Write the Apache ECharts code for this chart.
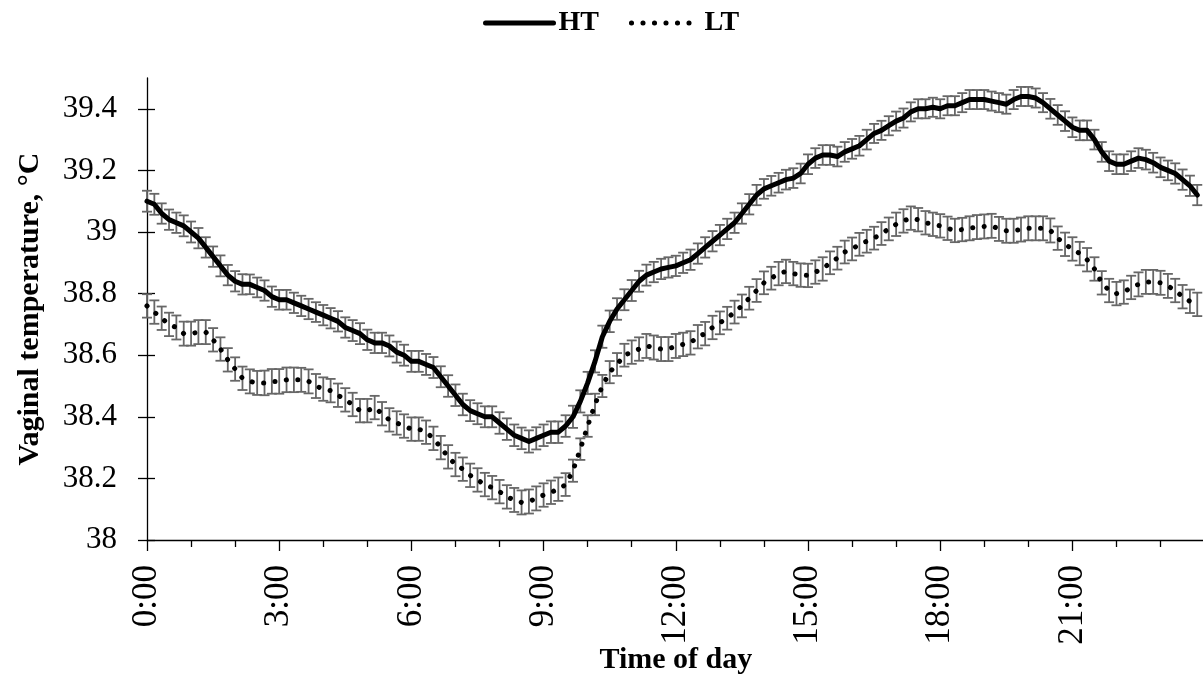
<!DOCTYPE html>
<html><head><meta charset="utf-8">
<script src="https://cdn.jsdelivr.net/npm/echarts@6/dist/echarts.min.js"></script>
<style>html,body{margin:0;padding:0;background:#fff}#c{width:1203px;height:677px}</style>
</head><body><div id="c"></div>
<script>
// 10-minute means, 0:00 .. 23:50 (one row = 2 hours)
const htMean = [
  39.10, 39.09, 39.06, 39.04, 39.03, 39.02, 39.00, 38.98, 38.95, 38.92, 38.89, 38.86,
  38.84, 38.83, 38.83, 38.82, 38.81, 38.79, 38.78, 38.78, 38.77, 38.76, 38.75, 38.74,
  38.73, 38.72, 38.71, 38.69, 38.68, 38.67, 38.65, 38.64, 38.64, 38.63, 38.61, 38.60,
  38.58, 38.58, 38.57, 38.56, 38.53, 38.50, 38.47, 38.44, 38.42, 38.41, 38.40, 38.40,
  38.38, 38.36, 38.34, 38.33, 38.32, 38.33, 38.34, 38.35, 38.35, 38.37, 38.40, 38.45,
  38.51, 38.58, 38.66, 38.71, 38.75, 38.78, 38.81, 38.84, 38.86, 38.87, 38.88, 38.885,
  38.89, 38.90, 38.91, 38.93, 38.95, 38.97, 38.99, 39.01, 39.03, 39.06, 39.09, 39.12,
  39.14, 39.15, 39.16, 39.17, 39.175, 39.19, 39.22, 39.24, 39.25, 39.25, 39.245, 39.26,
  39.27, 39.28, 39.30, 39.32, 39.33, 39.345, 39.36, 39.37, 39.39, 39.40, 39.40, 39.405,
  39.40, 39.41, 39.41, 39.42, 39.43, 39.43, 39.43, 39.425, 39.42, 39.415, 39.43, 39.44,
  39.44, 39.435, 39.42, 39.40, 39.38, 39.36, 39.34, 39.33, 39.33, 39.30, 39.26, 39.23,
  39.22, 39.22, 39.23, 39.24, 39.235, 39.225, 39.21, 39.20, 39.19, 39.17, 39.15, 39.12
];
const htSE = [
  0.034, 0.034, 0.033, 0.033, 0.033, 0.034, 0.034, 0.033, 0.033, 0.033, 0.034, 0.033,
  0.033, 0.033, 0.032, 0.032, 0.033, 0.033, 0.032, 0.032, 0.033, 0.033, 0.033, 0.032,
  0.033, 0.033, 0.033, 0.033, 0.034, 0.034, 0.033, 0.033, 0.033, 0.034, 0.034, 0.034,
  0.034, 0.034, 0.034, 0.034, 0.034, 0.035, 0.035, 0.035, 0.034, 0.034, 0.034, 0.034,
  0.035, 0.035, 0.035, 0.035, 0.036, 0.036, 0.035, 0.035, 0.035, 0.035, 0.036, 0.036,
  0.036, 0.036, 0.036, 0.035, 0.035, 0.034, 0.034, 0.034, 0.034, 0.033, 0.033, 0.033,
  0.033, 0.033, 0.033, 0.033, 0.033, 0.033, 0.033, 0.033, 0.033, 0.033, 0.033, 0.033,
  0.032, 0.032, 0.032, 0.032, 0.032, 0.032, 0.032, 0.032, 0.032, 0.032, 0.032, 0.032,
  0.032, 0.032, 0.032, 0.031, 0.031, 0.031, 0.031, 0.031, 0.031, 0.031, 0.031, 0.031,
  0.031, 0.031, 0.031, 0.031, 0.031, 0.031, 0.031, 0.031, 0.031, 0.031, 0.031, 0.031,
  0.031, 0.031, 0.031, 0.032, 0.032, 0.032, 0.032, 0.032, 0.032, 0.032, 0.032, 0.032,
  0.032, 0.032, 0.032, 0.032, 0.032, 0.032, 0.032, 0.032, 0.033, 0.033, 0.033, 0.033
];
const ltMean = [
  38.76, 38.74, 38.72, 38.70, 38.69, 38.67, 38.67, 38.675, 38.675, 38.65, 38.62, 38.585,
  38.555, 38.525, 38.515, 38.51, 38.51, 38.515, 38.515, 38.52, 38.52, 38.52, 38.515, 38.50,
  38.49, 38.485, 38.47, 38.455, 38.44, 38.42, 38.42, 38.43, 38.41, 38.39, 38.38, 38.37,
  38.36, 38.36, 38.35, 38.33, 38.30, 38.27, 38.245, 38.23, 38.21, 38.195, 38.18, 38.17,
  38.157, 38.14, 38.13, 38.122, 38.125, 38.135, 38.146, 38.155, 38.165, 38.18, 38.225, 38.295,
  38.37, 38.44, 38.50, 38.545, 38.57, 38.60, 38.61, 38.62, 38.63, 38.625, 38.62, 38.62,
  38.63, 38.635, 38.64, 38.66, 38.67, 38.69, 38.705, 38.72, 38.74, 38.76, 38.785, 38.81,
  38.835, 38.85, 38.865, 38.872, 38.865, 38.86, 38.859, 38.87, 38.88, 38.90, 38.915, 38.935,
  38.945, 38.96, 38.97, 38.98, 38.995, 39.01, 39.025, 39.036, 39.045, 39.04, 39.03, 39.025,
  39.02, 39.012, 39.005, 39.008, 39.012, 39.016, 39.018, 39.02, 39.01, 39.004, 39.004, 39.008,
  39.012, 39.012, 39.012, 39.005, 38.98, 38.96, 38.945, 38.93, 38.91, 38.88, 38.835, 38.81,
  38.80, 38.805, 38.82, 38.83, 38.838, 38.838, 38.835, 38.825, 38.81, 38.79, 38.775, 38.765
];
const ltSE = [
  0.038, 0.038, 0.038, 0.038, 0.039, 0.039, 0.039, 0.039, 0.039, 0.038, 0.038, 0.038,
  0.038, 0.038, 0.039, 0.039, 0.040, 0.040, 0.040, 0.040, 0.040, 0.039, 0.039, 0.039,
  0.038, 0.038, 0.038, 0.038, 0.038, 0.038, 0.038, 0.038, 0.038, 0.038, 0.038, 0.038,
  0.038, 0.038, 0.038, 0.038, 0.038, 0.038, 0.038, 0.038, 0.038, 0.038, 0.038, 0.038,
  0.038, 0.038, 0.039, 0.039, 0.039, 0.039, 0.038, 0.038, 0.038, 0.037, 0.036, 0.035,
  0.035, 0.035, 0.036, 0.036, 0.037, 0.037, 0.038, 0.038, 0.039, 0.039, 0.039, 0.039,
  0.039, 0.038, 0.038, 0.038, 0.038, 0.038, 0.037, 0.037, 0.037, 0.037, 0.037, 0.037,
  0.037, 0.037, 0.038, 0.038, 0.038, 0.038, 0.038, 0.038, 0.038, 0.037, 0.037, 0.037,
  0.037, 0.037, 0.037, 0.037, 0.037, 0.037, 0.038, 0.038, 0.038, 0.038, 0.038, 0.038,
  0.038, 0.038, 0.038, 0.038, 0.039, 0.039, 0.039, 0.039, 0.039, 0.039, 0.039, 0.039,
  0.039, 0.039, 0.039, 0.039, 0.038, 0.038, 0.038, 0.038, 0.038, 0.038, 0.038, 0.038,
  0.038, 0.038, 0.038, 0.039, 0.039, 0.039, 0.039, 0.039, 0.038, 0.038, 0.038, 0.038
];
const seriesNames = ['HT', 'LT'];
const xTickLabels = ['0:00', '3:00', '6:00', '9:00', '12:00', '15:00', '18:00', '21:00'];
const yTickValues = [38, 38.2, 38.4, 38.6, 38.8, 39, 39.2, 39.4];
const minutesPerPoint = 10;

const FONT = '"Liberation Serif","Times New Roman",serif';

function toPoints(mean) { return mean.map((v, i) => [i * minutesPerPoint, v]); }
function toErr(mean, se) { return mean.map((v, i) => [i * minutesPerPoint, v - se[i], v + se[i]]); }

function errRender(params, api) {
  const x = api.value(0), lo = api.value(1), hi = api.value(2);
  const p1 = api.coord([x, hi]), p2 = api.coord([x, lo]);
  const hw = 5;
  const st = () => ({ stroke: '#676767', lineWidth: 1.8 });
  return {
    type: 'group', children: [
      { type: 'line', shape: { x1: p1[0], y1: p1[1], x2: p2[0], y2: p2[1] }, style: st() },
      { type: 'line', shape: { x1: p1[0] - hw, y1: p1[1], x2: p1[0] + hw, y2: p1[1] }, style: st() },
      { type: 'line', shape: { x1: p2[0] - hw, y1: p2[1], x2: p2[0] + hw, y2: p2[1] }, style: st() }
    ]
  };
}

const chart = echarts.init(document.getElementById('c'), null, { renderer: 'canvas' });
chart.setOption({
  animation: false,
  backgroundColor: '#fff',
  legend: {
    data: seriesNames,
    top: 4, left: 478,
    itemWidth: 68, itemHeight: 14, itemGap: 30,
    itemStyle: { color: 'rgba(0,0,0,0)', borderColor: 'rgba(0,0,0,0)', borderWidth: 0, opacity: 0 },
    lineStyle: { width: 5 },
    textStyle: { fontFamily: FONT, fontWeight: 'bold', fontSize: 28, color: '#000' }
  },
  grid: { left: 147, top: 78, width: 1057.6, height: 462, containLabel: false, outerBoundsMode: 'none' },
  xAxis: {
    type: 'value', min: 0, max: 1440, interval: 180,
    name: 'Time of day', nameLocation: 'middle', nameGap: 105, nameMoveOverlap: false,
    nameTextStyle: { fontFamily: FONT, fontWeight: 'bold', fontSize: 30, color: '#000' },
    axisLine: { show: true, lineStyle: { color: '#000', width: 1.3 } },
    axisTick: { show: true, length: 11, lineStyle: { color: '#000', width: 1.3 } },
    minorTick: { show: true, splitNumber: 3, length: 7, lineStyle: { color: '#000', width: 1.3 } },
    splitLine: { show: false },
    axisLabel: {
      rotate: 90, margin: 25, showMaxLabel: false,
      fontFamily: FONT, fontSize: 35, color: '#000',
      formatter: v => (v % 180 === 0 && v < 1440) ? xTickLabels[v / 180] : ''
    }
  },
  yAxis: [{
    type: 'value', min: 38, max: 39.5,
    name: 'Vaginal temperature, °C', nameLocation: 'middle', nameGap: 102, nameMoveOverlap: false,
    nameTextStyle: { fontFamily: FONT, fontWeight: 'bold', fontSize: 30, color: '#000' },
    axisLine: { show: true, lineStyle: { color: '#000', width: 1.3 } },
    axisTick: { show: true, length: 9, customValues: yTickValues, lineStyle: { color: '#000', width: 1.3 } },
    splitLine: { show: false },
    axisLabel: {
      customValues: yTickValues, margin: 30,
      fontFamily: FONT, fontSize: 31, color: '#000',
      formatter: v => String(+v.toFixed(1))
    }
  }, {
    type: 'value', min: 38, max: 39.5, position: 'left',
    axisLine: { show: false },
    axisTick: { show: true, inside: true, length: 8, customValues: yTickValues, lineStyle: { color: '#000', width: 1.3 } },
    axisLabel: { show: false },
    splitLine: { show: false }
  }],
  series: [
    {
      name: 'HT err', type: 'custom', renderItem: errRender, z: 1,
      encode: { x: 0, y: [1, 2] }, data: toErr(htMean, htSE), silent: true
    },
    {
      name: 'LT err', type: 'custom', renderItem: errRender, z: 1,
      encode: { x: 0, y: [1, 2] }, data: toErr(ltMean, ltSE), silent: true
    },
    {
      name: seriesNames[0], type: 'line', z: 3, symbol: 'none', smooth: false,
      data: toPoints(htMean),
      itemStyle: { color: '#000' },
      lineStyle: { color: '#000', width: 5, cap: 'round', join: 'round' }
    },
    {
      name: seriesNames[1], type: 'line', z: 3, symbol: 'none', smooth: false,
      data: toPoints(ltMean),
      itemStyle: { color: '#000' },
      lineStyle: { color: '#000', width: 5, type: [0.1, 11.4], cap: 'round' }
    }
  ]
});
</script></body></html>
